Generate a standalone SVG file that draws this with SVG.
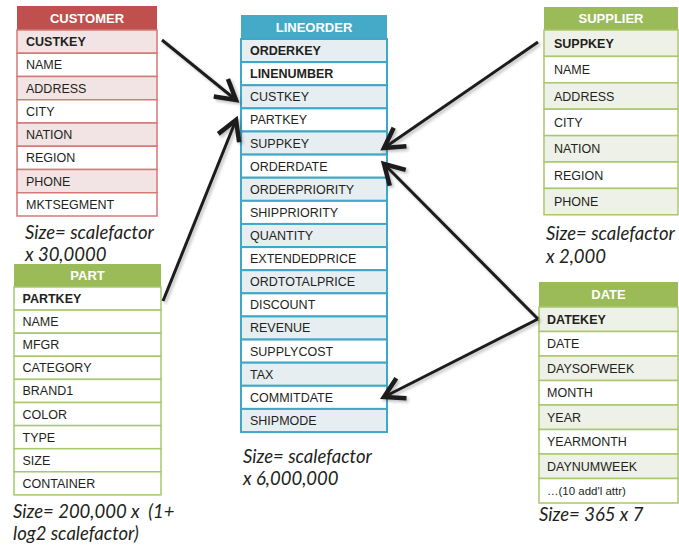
<svg xmlns="http://www.w3.org/2000/svg" width="679" height="548" viewBox="0 0 679 548">
  <defs>
    <style>
      .t { font-family: "Liberation Sans", Arial, sans-serif; font-size: 12.5px; fill: #231f20; }
      .b { font-weight: bold; }
      .h { font-family: "Liberation Sans", Arial, sans-serif; font-size: 13px; font-weight: bold; fill: #ffffff; text-anchor: middle; }
      .size { font-family: Lato, "Open Sans", sans-serif; font-style: italic; font-size: 18.5px; fill: #231f20; }
      .red .hd { fill: #c0504d; }
      .red .r { stroke: #d47a77; stroke-width: 1.5; }
      .red .alt { fill: #f2e4e4; }
      .blue .hd { fill: #45aac8; }
      .blue .r { stroke: #3ea8c8; stroke-width: 2; }
      .blue .alt { fill: #e7eef2; }
      .green .hd { fill: #9bbb59; }
      .green .r { stroke: #a9c76c; stroke-width: 1.5; }
      .green .alt { fill: #eef1e7; }
      .r { fill: #ffffff; }
      .conn { fill: none; stroke: #1c1c1c; stroke-width: 3; marker-end: url(#arrow); }
    </style>
    <marker id="arrow" markerUnits="userSpaceOnUse" markerWidth="30" markerHeight="30" viewBox="-16 -10 20 20" refX="0" refY="0" orient="auto">
      <path d="M -13 -7.5 L 0 0 L -13 7.5" fill="none" stroke="#1c1c1c" stroke-width="3" stroke-linejoin="miter"/>
    </marker>
    <filter id="shadow" x="-20%" y="-20%" width="140%" height="140%">
      <feDropShadow dx="2" dy="2" stdDeviation="1.5" flood-color="#000" flood-opacity="0.25"/>
    </filter>
  </defs>

  <rect width="679" height="548" fill="#ffffff"/>

  <!-- CUSTOMER dimension -->
  <g id="customer" class="red">
    <rect class="hd" x="17" y="6" width="140" height="24"/>
    <text class="h" x="87" y="22.5">CUSTOMER</text>
    <rect class="r alt" x="17" y="30" width="140" height="23.25"/>
    <rect class="r" x="17" y="53.25" width="140" height="23.25"/>
    <rect class="r alt" x="17" y="76.5" width="140" height="23.25"/>
    <rect class="r" x="17" y="99.75" width="140" height="23.25"/>
    <rect class="r alt" x="17" y="123" width="140" height="23.25"/>
    <rect class="r" x="17" y="146.25" width="140" height="23.25"/>
    <rect class="r alt" x="17" y="169.5" width="140" height="23.25"/>
    <rect class="r" x="17" y="192.75" width="140" height="23.25"/>
    <text class="t b" x="26" y="46">CUSTKEY</text>
    <text class="t" x="26" y="69.3">NAME</text>
    <text class="t" x="26" y="92.5">ADDRESS</text>
    <text class="t" x="26" y="115.8">CITY</text>
    <text class="t" x="26" y="139">NATION</text>
    <text class="t" x="26" y="162.3">REGION</text>
    <text class="t" x="26" y="185.5">PHONE</text>
    <text class="t" x="26" y="208.8">MKTSEGMENT</text>
    <text class="size" x="25" y="239">Size= scalefactor</text>
    <text class="size" x="25" y="261">x 30,0000</text>
  </g>

  <!-- LINEORDER fact table -->
  <g id="lineorder" class="blue">
    <rect class="hd" x="241" y="15" width="146" height="24"/>
    <text class="h" x="314" y="31.5">LINEORDER</text>
    <rect class="r alt" x="241" y="39" width="146" height="23.12"/>
    <rect class="r" x="241" y="62.12" width="146" height="23.12"/>
    <rect class="r alt" x="241" y="85.24" width="146" height="23.12"/>
    <rect class="r" x="241" y="108.36" width="146" height="23.12"/>
    <rect class="r alt" x="241" y="131.48" width="146" height="23.12"/>
    <rect class="r" x="241" y="154.6" width="146" height="23.12"/>
    <rect class="r alt" x="241" y="177.72" width="146" height="23.12"/>
    <rect class="r" x="241" y="200.84" width="146" height="23.12"/>
    <rect class="r alt" x="241" y="223.96" width="146" height="23.12"/>
    <rect class="r" x="241" y="247.08" width="146" height="23.12"/>
    <rect class="r alt" x="241" y="270.2" width="146" height="23.12"/>
    <rect class="r" x="241" y="293.32" width="146" height="23.12"/>
    <rect class="r alt" x="241" y="316.44" width="146" height="23.12"/>
    <rect class="r" x="241" y="339.56" width="146" height="23.12"/>
    <rect class="r alt" x="241" y="362.68" width="146" height="23.12"/>
    <rect class="r" x="241" y="385.8" width="146" height="23.12"/>
    <rect class="r alt" x="241" y="408.92" width="146" height="23.12"/>
    <text class="t b" x="250" y="55">ORDERKEY</text>
    <text class="t b" x="250" y="78.1">LINENUMBER</text>
    <text class="t" x="250" y="101.2">CUSTKEY</text>
    <text class="t" x="250" y="124.4">PARTKEY</text>
    <text class="t" x="250" y="147.5">SUPPKEY</text>
    <text class="t" x="250" y="170.6">ORDERDATE</text>
    <text class="t" x="250" y="193.7">ORDERPRIORITY</text>
    <text class="t" x="250" y="216.8">SHIPPRIORITY</text>
    <text class="t" x="250" y="240">QUANTITY</text>
    <text class="t" x="250" y="263.1">EXTENDEDPRICE</text>
    <text class="t" x="250" y="286.2">ORDTOTALPRICE</text>
    <text class="t" x="250" y="309.3">DISCOUNT</text>
    <text class="t" x="250" y="332.4">REVENUE</text>
    <text class="t" x="250" y="355.6">SUPPLYCOST</text>
    <text class="t" x="250" y="378.7">TAX</text>
    <text class="t" x="250" y="401.8">COMMITDATE</text>
    <text class="t" x="250" y="424.9">SHIPMODE</text>
    <text class="size" x="243" y="463">Size= scalefactor</text>
    <text class="size" x="243" y="485">x 6,000,000</text>
  </g>

  <!-- SUPPLIER dimension -->
  <g id="supplier" class="green">
    <rect class="hd" x="544" y="7" width="134" height="23"/>
    <text class="h" x="611" y="23">SUPPLIER</text>
    <rect class="r alt" x="544" y="30" width="134" height="26.4"/>
    <rect class="r" x="544" y="56.4" width="134" height="26.4"/>
    <rect class="r alt" x="544" y="82.8" width="134" height="26.4"/>
    <rect class="r" x="544" y="109.2" width="134" height="26.4"/>
    <rect class="r alt" x="544" y="135.6" width="134" height="26.4"/>
    <rect class="r" x="544" y="162" width="134" height="26.4"/>
    <rect class="r alt" x="544" y="188.4" width="134" height="26.4"/>
    <text class="t b" x="554" y="47.7">SUPPKEY</text>
    <text class="t" x="554" y="74.1">NAME</text>
    <text class="t" x="554" y="100.5">ADDRESS</text>
    <text class="t" x="554" y="126.9">CITY</text>
    <text class="t" x="554" y="153.3">NATION</text>
    <text class="t" x="554" y="179.7">REGION</text>
    <text class="t" x="554" y="206.1">PHONE</text>
    <text class="size" x="546" y="240">Size= scalefactor</text>
    <text class="size" x="546" y="263">x 2,000</text>
  </g>

  <!-- PART dimension -->
  <g id="part" class="green">
    <rect class="hd" x="14" y="264" width="147" height="23"/>
    <text class="h" x="87.5" y="280">PART</text>
    <rect class="r" x="14" y="287" width="147" height="23.1"/>
    <rect class="r" x="14" y="310.1" width="147" height="23.1"/>
    <rect class="r" x="14" y="333.2" width="147" height="23.1"/>
    <rect class="r" x="14" y="356.3" width="147" height="23.1"/>
    <rect class="r" x="14" y="379.4" width="147" height="23.1"/>
    <rect class="r" x="14" y="402.5" width="147" height="23.1"/>
    <rect class="r" x="14" y="425.6" width="147" height="23.1"/>
    <rect class="r" x="14" y="448.7" width="147" height="23.1"/>
    <rect class="r" x="14" y="471.8" width="147" height="23.1"/>
    <text class="t b" x="22.5" y="303">PARTKEY</text>
    <text class="t" x="22.5" y="326.1">NAME</text>
    <text class="t" x="22.5" y="349.2">MFGR</text>
    <text class="t" x="22.5" y="372.3">CATEGORY</text>
    <text class="t" x="22.5" y="395.4">BRAND1</text>
    <text class="t" x="22.5" y="418.5">COLOR</text>
    <text class="t" x="22.5" y="441.6">TYPE</text>
    <text class="t" x="22.5" y="464.7">SIZE</text>
    <text class="t" x="22.5" y="487.8">CONTAINER</text>
    <text class="size" x="13" y="518" xml:space="preserve">Size= 200,000 x  (1+</text>
    <text class="size" x="13" y="540">log2 scalefactor)</text>
  </g>

  <!-- DATE dimension -->
  <g id="date" class="green">
    <rect class="hd" x="539" y="282" width="139" height="25"/>
    <text class="h" x="608.5" y="299">DATE</text>
    <rect class="r alt" x="539" y="307" width="139" height="24.5"/>
    <rect class="r" x="539" y="331.5" width="139" height="24.5"/>
    <rect class="r alt" x="539" y="356" width="139" height="24.5"/>
    <rect class="r" x="539" y="380.5" width="139" height="24.5"/>
    <rect class="r alt" x="539" y="405" width="139" height="24.5"/>
    <rect class="r" x="539" y="429.5" width="139" height="24.5"/>
    <rect class="r alt" x="539" y="454" width="139" height="24.5"/>
    <rect class="r" x="539" y="478.5" width="139" height="24.5"/>
    <text class="t b" x="547" y="323.7">DATEKEY</text>
    <text class="t" x="547" y="348.2">DATE</text>
    <text class="t" x="547" y="372.7">DAYSOFWEEK</text>
    <text class="t" x="547" y="397.2">MONTH</text>
    <text class="t" x="547" y="421.7">YEAR</text>
    <text class="t" x="547" y="446.2">YEARMONTH</text>
    <text class="t" x="547" y="470.7">DAYNUMWEEK</text>
    <text class="t" x="547" y="495.2" style="font-size:11.5px">…(10 add'l attr)</text>
    <text class="size" x="539" y="521">Size= 365 x 7</text>
  </g>

  <!-- foreign-key connectors -->
  <g id="connectors" filter="url(#shadow)">
    <line class="conn" x1="162" y1="40" x2="236" y2="100"/>
    <line class="conn" x1="163" y1="301" x2="236" y2="120"/>
    <line class="conn" x1="538" y1="42" x2="384" y2="148"/>
    <line class="conn" x1="538" y1="319" x2="384" y2="164"/>
    <line class="conn" x1="538" y1="319" x2="384" y2="397"/>
  </g>
</svg>
